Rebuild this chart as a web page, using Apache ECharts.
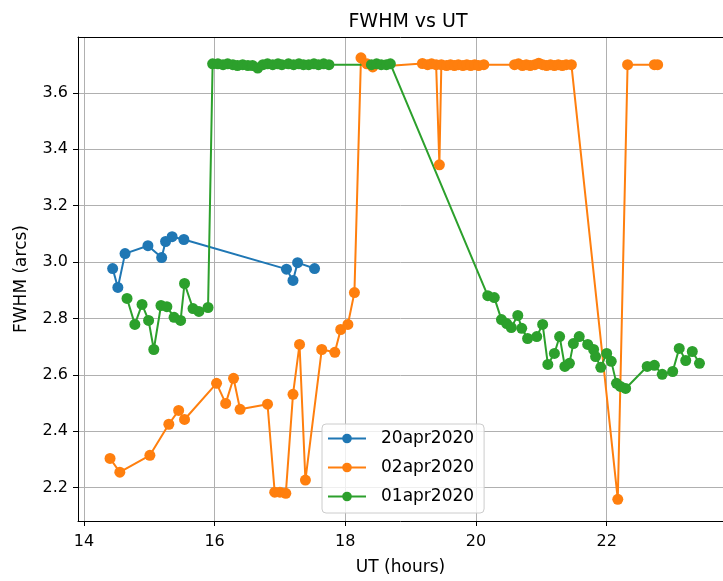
<!DOCTYPE html>
<html>
<head>
<meta charset="utf-8">
<script src="https://cdn.jsdelivr.net/npm/echarts@6/dist/echarts.min.js"></script>
<style>
html,body{margin:0;padding:0;background:#fff;}
#chart{width:723px;height:581px;}
</style>
</head>
<body>
<div id="chart"></div>
<script>
// ---- data ----
const seriesNames = ['20apr2020', '02apr2020', '01apr2020'];

const apr20X = [14.44, 14.52, 14.63, 14.98, 15.19, 15.25, 15.35, 15.53, 17.10, 17.20, 17.27, 17.53];
const apr20Y = [2.977, 2.910, 3.030, 3.058, 3.016, 3.073, 3.090, 3.080, 2.975, 2.935, 2.998, 2.977];

const apr02X = [14.40, 14.55, 15.01, 15.30, 15.45, 15.54, 16.03, 16.17, 16.29, 16.39, 16.81, 16.92, 17.00, 17.09,
  17.20, 17.30, 17.39, 17.64, 17.84, 17.93, 18.04, 18.14, 18.24, 18.33, 18.42,
  19.18, 19.26, 19.32, 19.39, 19.44, 19.47, 19.55, 19.61, 19.67, 19.73, 19.80, 19.86, 19.92, 19.98, 20.04, 20.12,
  20.59, 20.65, 20.71, 20.77, 20.83, 20.90, 20.96, 21.02, 21.08, 21.14, 21.20, 21.26, 21.32, 21.38, 21.46,
  22.17, 22.32, 22.73, 22.78];
const apr02Y = [2.304, 2.255, 2.315, 2.425, 2.474, 2.442, 2.570, 2.499, 2.588, 2.478, 2.496, 2.184, 2.184, 2.180,
  2.531, 2.708, 2.227, 2.690, 2.680, 2.761, 2.779, 2.892, 3.724, 3.703, 3.692,
  3.704, 3.700, 3.703, 3.700, 3.345, 3.700, 3.697, 3.700, 3.697, 3.700, 3.697, 3.700, 3.697, 3.700, 3.697, 3.700,
  3.700, 3.703, 3.697, 3.700, 3.697, 3.700, 3.705, 3.700, 3.697, 3.700, 3.697, 3.700, 3.697, 3.700, 3.700,
  2.159, 3.700, 3.700, 3.700];

const apr01X = [14.66, 14.78, 14.89, 14.99, 15.07, 15.18, 15.27, 15.38, 15.48, 15.54, 15.67, 15.76, 15.90,
  15.97, 16.05, 16.13, 16.20, 16.28, 16.35, 16.43, 16.51, 16.58, 16.66, 16.74, 16.81, 16.89, 16.97, 17.03,
  17.13, 17.21, 17.29, 17.36, 17.44, 17.52, 17.59, 17.67, 17.75,
  18.40, 18.48, 18.55, 18.63, 18.69,
  20.18, 20.28, 20.39, 20.47, 20.54, 20.64, 20.70, 20.79, 20.93, 21.02, 21.10, 21.20, 21.28, 21.36, 21.43, 21.49,
  21.58, 21.71, 21.80, 21.83, 21.91, 22.00, 22.07, 22.15, 22.21, 22.29, 22.62, 22.73, 22.85, 23.01, 23.11, 23.21,
  23.31, 23.42];
const apr01Y = [2.871, 2.779, 2.850, 2.793, 2.690, 2.846, 2.842, 2.804, 2.793, 2.924, 2.835, 2.825, 2.839,
  3.703, 3.703, 3.700, 3.703, 3.700, 3.697, 3.700, 3.697, 3.697, 3.688, 3.700, 3.703, 3.700, 3.703, 3.700,
  3.703, 3.700, 3.703, 3.700, 3.700, 3.703, 3.700, 3.703, 3.700,
  3.700, 3.703, 3.700, 3.700, 3.703,
  2.881, 2.874, 2.796, 2.782, 2.768, 2.811, 2.765, 2.729, 2.736, 2.779, 2.637, 2.676, 2.736, 2.630, 2.641, 2.711,
  2.736, 2.708, 2.690, 2.665, 2.627, 2.676, 2.648, 2.570, 2.559, 2.552, 2.630, 2.634, 2.602, 2.612, 2.694, 2.651,
  2.683, 2.641];

const xTicks = [14, 16, 18, 20, 22];
const yTicks = [2.2, 2.4, 2.6, 2.8, 3.0, 3.2, 3.4, 3.6];

const colors = ['#1f77b4', '#ff7f0e', '#2ca02c'];

// ---- chart ----
const zip = (xs, ys) => xs.map((x, i) => [x, ys[i]]);
const FONT = 'DejaVu Sans';
const X_MIN = 13.91, X_MAX = 23.78; // visible part of the axis (plot is cropped on the right)

function mkSeries(name, xs, ys, color) {
  return {
    name: name,
    type: 'line',
    data: zip(xs, ys),
    symbol: 'circle',
    symbolSize: 11,
    showSymbol: true,
    animation: false,
    lineStyle: { color: color, width: 2 },
    itemStyle: { color: color },
    emphasis: { disabled: true }
  };
}

const chart = echarts.init(document.getElementById('chart'), null, { renderer: 'canvas' });
chart.setOption({
  animation: false,
  backgroundColor: '#ffffff',
  color: colors,
  title: {
    text: 'FWHM vs UT',
    left: 403, top: 8, textAlign: 'center',
    textStyle: { fontFamily: FONT, fontSize: 19, fontWeight: 'normal', color: '#000' }
  },
  grid: {
    left: 78, top: 37, right: 0, height: 485,
    show: false
  },
  legend: {
    orient: 'vertical',
    left: 322, top: 424,
    data: seriesNames,
    itemWidth: 38, itemHeight: 12,
    itemGap: 12,
    padding: [6, 10, 8, 5],
    backgroundColor: 'rgba(255,255,255,0.8)',
    borderColor: '#cccccc', borderWidth: 1, borderRadius: 4,
    textStyle: { fontFamily: FONT, fontSize: 17, color: '#000', padding: [0, 0, 0, 10] }
  },
  xAxis: [{
    type: 'value',
    min: X_MIN, max: X_MAX,
    name: 'UT (hours)', nameLocation: 'middle', nameGap: 38,
    nameTextStyle: { fontFamily: FONT, fontSize: 17, color: '#000' },
    axisLine: { show: true, onZero: false, lineStyle: { color: '#000', width: 1 } },
    axisTick: { show: true, length: 5, lineStyle: { color: '#000' }, customValues: xTicks },
    axisLabel: { fontFamily: FONT, fontSize: 16, color: '#000', margin: 13, customValues: xTicks },
    splitLine: { show: true, lineStyle: { color: '#b0b0b0', width: 1 } }
  }, {
    type: 'value',
    position: 'top',
    min: X_MIN, max: X_MAX,
    axisLine: { show: true, onZero: false, lineStyle: { color: '#000', width: 1 } },
    axisTick: { show: false },
    axisLabel: { show: false },
    splitLine: { show: false }
  }],
  yAxis: {
    type: 'value',
    min: 2.082, max: 3.798,
    name: 'FWHM (arcs)', nameLocation: 'middle', nameGap: 48, nameRotate: 90,
    nameTextStyle: { fontFamily: FONT, fontSize: 17, color: '#000' },
    axisLine: { show: true, onZero: false, lineStyle: { color: '#000', width: 1 } },
    axisTick: { show: true, length: 5, lineStyle: { color: '#000' }, customValues: yTicks },
    axisLabel: { fontFamily: FONT, fontSize: 16, color: '#000', margin: 10, customValues: yTicks,
      formatter: v => v.toFixed(1) },
    splitLine: { show: true, lineStyle: { color: '#b0b0b0', width: 1 } }
  },
  series: [
    mkSeries(seriesNames[0], apr20X, apr20Y, colors[0]),
    mkSeries(seriesNames[1], apr02X, apr02Y, colors[1]),
    mkSeries(seriesNames[2], apr01X, apr01Y, colors[2])
  ]
});
</script>
</body>
</html>
